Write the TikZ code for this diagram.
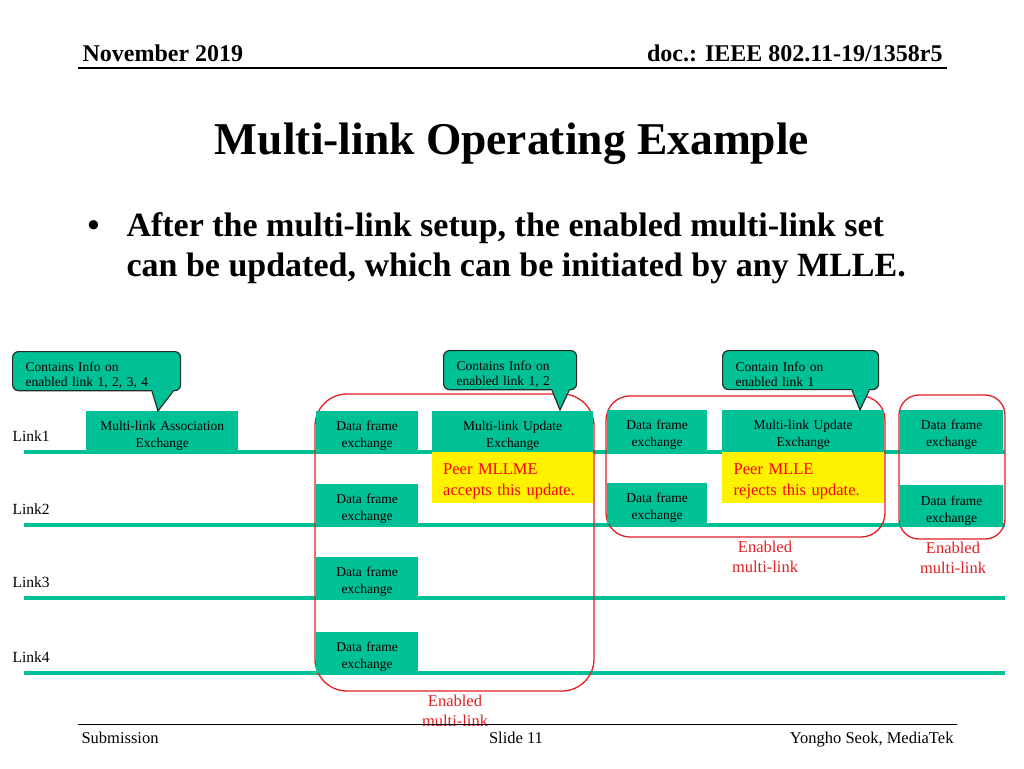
\documentclass[tikz,border=0pt]{standalone}
\usepackage{fontspec}
\setmainfont{Liberation Serif}
\usetikzlibrary{positioning,calc}
\definecolor{linkteal}{RGB}{0,192,150}
\definecolor{regionred}{RGB}{226,32,38}
\definecolor{calloutline}{RGB}{35,45,40}
\tikzset{
  linkline/.style={draw=linkteal, line width=3.5pt},
  linklabel/.style={anchor=base west, font=\fontsize{15.5}{18}\selectfont},
  frame/.style={
    rectangle, fill=linkteal, anchor=north west,
    minimum width=102pt, minimum height=41pt, inner sep=1pt,
    text width=96pt, align=center, font=\fontsize{13.5}{17}\selectfont,
    execute at begin node=\rule{0pt}{17.5pt}
  },
  note/.style={
    rectangle, fill=yellow, anchor=north west,
    minimum width=161pt, minimum height=51pt, inner xsep=11pt,
    text width=139pt, align=left, text=red,
    font=\fontsize{16.5}{21}\selectfont,
    execute at begin node=\rule{0pt}{19pt}
  },
  callout/.style={
    rectangle, rounded corners=6pt, draw=calloutline, fill=linkteal,
    line width=1.2pt, anchor=north west, minimum height=39pt,
    inner xsep=13pt, inner ysep=2pt, align=left,
    font=\fontsize{13.5}{15.5}\selectfont,
    execute at begin node=\rule{0pt}{17.5pt}
  },
  pointer/.style={draw=calloutline, line width=1.2pt},
  region/.style={draw=regionred, line width=1.3pt},
  enabled/.style={text=regionred, align=center, font=\fontsize{16.5}{20}\selectfont},
  footer/.style={anchor=base, font=\fontsize{16.5}{20}\selectfont}
}

\begin{document}
\begin{tikzpicture}[x=1pt, y=-1pt]
\fill[white] (0,0) rectangle (1024,768);
\useasboundingbox (0,0) rectangle (1024,768);

% Header
\node[anchor=base west, font=\fontsize{24}{28}\selectfont\bfseries] (month) at (79,62) {November 2019};
\node[anchor=base east, font=\fontsize{24}{28}\selectfont\bfseries] (docno) at (946,62) {doc.: IEEE 802.11-19/1358r5};
\draw[line width=1.8pt] (78,68) -- (947,68);

% Title and bullet
\node[anchor=base, font=\fontsize{45.5}{52}\selectfont\bfseries] (title) at (512,154) {Multi-link Operating Example};
\node[anchor=base west, font=\fontsize{34}{40}\selectfont\bfseries] (bullet) at (84,236) {\textbullet};
\node[anchor=base west, font=\fontsize{34}{40}\selectfont\bfseries] (line1) at (123,236) {After the multi-link setup, the enabled multi-link set};
\node[anchor=base west, font=\fontsize{34}{40}\selectfont\bfseries] (line2) at (123,276) {can be updated, which can be initiated by any MLLE.};

% Links
\foreach \y/\n in {452/1,525/2,598/3,673/4}{
  \draw[linkline] (24,\y) -- (1005,\y);
  \node[linklabel] (link\n) at (9,\y-11) {Link\n};
}

% Red regions of enabled links
\draw[region, rounded corners=32pt] (315,394) rectangle (594,691);
\draw[region, rounded corners=24pt] (606,396) rectangle (885,537);
\draw[region, rounded corners=20pt] (899,395) rectangle (1005,539);

% Link1 frames
\node[frame, minimum width=152pt, text width=148pt] (assoc) at (86,411) {Multi-link Association\\Exchange};
\node[frame] (dfa1) at (316,411) {Data frame\\exchange};
\node[frame, minimum width=161pt, text width=150pt] (upda) at (432,411) {Multi-link Update\\Exchange};
\node[frame, minimum width=100pt] (dfb1) at (607,410) {Data frame\\exchange};
\node[frame, minimum width=162pt, text width=150pt] (updb) at (722,410) {Multi-link Update\\Exchange};
\node[frame, minimum width=103pt] (dfc1) at (900,410) {Data frame\\exchange};

% Link2 frames
\node[frame] (dfa2) at (316,484) {Data frame\\exchange};
\node[frame, minimum width=100pt] (dfb2) at (607,483) {Data frame\\exchange};
\node[frame, minimum width=103pt, minimum height=42pt] (dfc2) at (900,485) {Data frame\\exchange};

% Link3 and Link4 frames
\node[frame] (dfa3) at (316,557) {Data frame\\exchange};
\node[frame] (dfa4) at (316,632) {Data frame\\exchange};

% Peer responses
\node[note] (accept) at (432,452) {Peer MLLME\\accepts this update.};
\node[note, minimum width=162pt] (reject) at (722,452) {Peer MLLE\\rejects this update.};

% Callouts
\node[callout, minimum width=168pt, text width=142pt] (info1) at (12,351) {Contains Info on\\enabled link 1, 2, 3, 4};
\coordinate (tip1) at (158,411);
\fill[linkteal] ([xshift=140pt,yshift=1.5pt]info1.south west) -- (tip1) -- ([xshift=-8pt,yshift=1.5pt]info1.south east) -- cycle;
\draw[pointer] ([xshift=140pt]info1.south west) -- (tip1) -- ([xshift=-8pt]info1.south east);

\node[callout, minimum width=133pt, text width=107pt] (info2) at (443,350) {Contains Info on\\enabled link 1, 2};
\coordinate (tip2) at (560,410);
\fill[linkteal] ([xshift=109pt,yshift=1.5pt]info2.south west) -- (tip2) -- ([xshift=-8pt,yshift=1.5pt]info2.south east) -- cycle;
\draw[pointer] ([xshift=109pt]info2.south west) -- (tip2) -- ([xshift=-8pt]info2.south east);

\node[callout, minimum width=156pt, text width=130pt] (info3) at (722,350) {Contain Info on\\enabled link 1};
\coordinate (tip3) at (860,410);
\fill[linkteal] ([xshift=130pt,yshift=1.5pt]info3.south west) -- (tip3) -- ([xshift=-10pt,yshift=1.5pt]info3.south east) -- cycle;
\draw[pointer] ([xshift=130pt]info3.south west) -- (tip3) -- ([xshift=-10pt]info3.south east);

% Enabled multi-link labels
\node[enabled] (enA) at (455,711) {Enabled\\multi-link};
\node[enabled] (enB) at (765,557) {Enabled\\multi-link};
\node[enabled] (enC) at (953,558) {Enabled\\multi-link};

% Footer
\draw[line width=0.9pt] (78,724) -- (957,724);
\node[footer, anchor=base west] (subm) at (78,743) {Submission};
\node[footer] (slide) at (516,743) {Slide 11};
\node[footer, anchor=base east] (author) at (957,743) {Yongho Seok, MediaTek};

\end{tikzpicture}
\end{document}
